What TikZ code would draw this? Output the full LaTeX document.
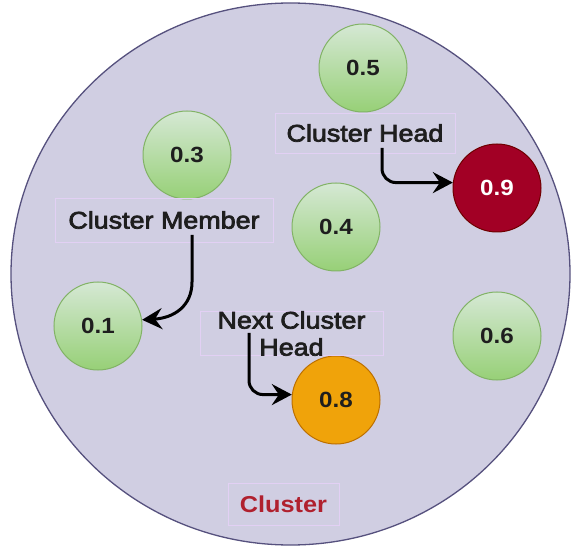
\documentclass[tikz,border=0pt]{standalone}
\usepackage{fontspec}
\newfontfamily\lblfont{Liberation Sans}[FakeStretch=1.12, FakeBold=3]
\newfontfamily\numfont{Liberation Sans}[FakeStretch=1.1]
\usetikzlibrary{arrows.meta}
\definecolor{clusterfill}{HTML}{D0CEE2}
\definecolor{clusterline}{HTML}{56517E}
\definecolor{membertop}{HTML}{D5E8D4}
\definecolor{memberbottom}{HTML}{97D077}
\definecolor{memberline}{HTML}{82B366}
\definecolor{headfill}{HTML}{A20025}
\definecolor{headline}{HTML}{6F0000}
\definecolor{nextfill}{HTML}{F0A30A}
\definecolor{nextline}{HTML}{BD7000}
\definecolor{boxline}{HTML}{E2D0F4}
\definecolor{labeltext}{HTML}{1E1E1E}
\definecolor{titletext}{HTML}{B0202E}
\begin{document}
\begin{tikzpicture}[x=1pt,y=-1pt,
  every node/.style={font=\lblfont\fontsize{24}{27}\selectfont, text=labeltext},
  sensor/.style={circle, minimum size=88pt, inner sep=0pt, line width=1pt,
    font=\numfont\bfseries\fontsize{22}{26}\selectfont},
  member/.style={sensor, draw=memberline, top color=membertop, bottom color=memberbottom},
  headnode/.style={sensor, draw=headline, fill=headfill, text=white},
  nextnode/.style={sensor, draw=nextline, fill=nextfill},
  tag/.style={draw=boxline, line width=0.8pt, inner sep=0pt, align=center},
  pointer/.style={-{Stealth[length=20pt,width=21pt,inset=7pt]}, line width=3pt, black}
]
\useasboundingbox (0,0) rectangle (571,548);

% cluster boundary
\draw[fill=clusterfill, draw=clusterline, line width=1.3pt] (290.5,274) ellipse [x radius=279.5, y radius=271];

% sensor nodes
\node[member] (n5) at (363,68) {0.5};
\node[member] (n3) at (187,155) {0.3};
\node[member] (n4) at (336,227) {0.4};
\node[member] (n1) at (98,326) {0.1};
\node[member] (n6) at (497,336) {0.6};
\node[headnode] (n9) at (497,188) {0.9};
\node[nextnode] (n8) at (336,400) {0.8};

% labels
\node[tag, minimum width=180pt, minimum height=40pt] (lhead) at (365,133) {Cluster Head};
\node[tag, minimum width=218pt, minimum height=44pt] (lmember) at (164,220) {Cluster Member};
\node[tag, minimum width=183pt, minimum height=41pt] (lnext) at (291.5,333.5) {Next Cluster\\Head};
\node[tag, minimum width=111pt, minimum height=42pt, text=titletext, font=\numfont\bfseries\fontsize{23}{26}\selectfont] (lcluster) at (283.5,504) {Cluster};

% arrow start points
\coordinate (shead) at (382,148);
\coordinate (smember) at (192,235);
\coordinate (snext) at (249,333);

% pointers
\draw[pointer, rounded corners=14pt] (shead) |- (n9.173);
\draw[pointer, rounded corners=14pt] (snext) |- (n8.173);
\draw[pointer] (smember) -- (192,282) .. controls (192,306) and (174,318) .. (n1.8);
\end{tikzpicture}
\end{document}
